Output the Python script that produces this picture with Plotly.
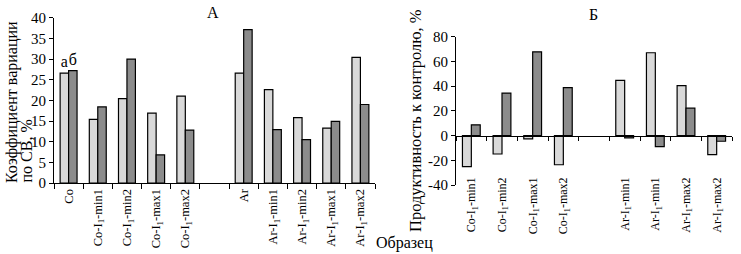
import plotly.graph_objects as go

# ---------------- data ----------------
cats_a = ["Co", "Co-I<sub>1</sub>-min1", "Co-I<sub>1</sub>-min2", "Co-I<sub>1</sub>-max1",
          "Co-I<sub>1</sub>-max2", "", "Ar", "Ar-I<sub>1</sub>-min1", "Ar-I<sub>1</sub>-min2",
          "Ar-I<sub>1</sub>-max1", "Ar-I<sub>1</sub>-max2"]
a_light = [26.6, 15.4, 20.4, 16.9, 21.0, None, 26.6, 22.6, 15.8, 13.3, 30.4]
a_dark = [27.2, 18.4, 30.0, 6.8, 12.8, None, 37.1, 12.9, 10.5, 14.9, 19.0]
a_text_light = ["а", "", "", "", "", "", "", "", "", "", ""]
a_text_dark = ["б", "", "", "", "", "", "", "", "", "", ""]

cats_b = ["Co-I<sub>1</sub>-min1", "Co-I<sub>1</sub>-min2", "Co-I<sub>1</sub>-max1",
          "Co-I<sub>1</sub>-max2", "", "Ar-I<sub>1</sub>-min1", "Ar-I<sub>1</sub>-min1",
          "Ar-I<sub>1</sub>-max2", "Ar-I<sub>1</sub>-max2"]
b_light = [-25.2, -14.9, -2.7, -23.6, None, 44.7, 67.0, 40.4, -15.5]
b_dark = [8.7, 34.4, 67.8, 38.8, None, -1.9, -8.9, 22.2, -4.6]

ya_ticks = [0, 5, 10, 15, 20, 25, 30, 35, 40]
yb_ticks = [-40, -20, 0, 20, 40, 60, 80]
yb_ticktext = ["-40", "-20", "0", "20", "40", "60", "80"]

# ---------------- style ----------------
FONT = "Liberation Serif"
LIGHT = "#d9d9d9"
DARK = "#8c8c8c"
line = dict(color="black", width=1.2)
W, H = 741, 254

xa = list(range(len(cats_a)))
xb = list(range(len(cats_b)))
# label positions (skip the empty gap slot)
xa_lab = [i for i, c in enumerate(cats_a) if c]
ta_lab = [c for c in cats_a if c]
xb_lab = [i for i, c in enumerate(cats_b) if c]
tb_lab = [c for c in cats_b if c]

fig = go.Figure()
fig.add_trace(go.Bar(x=xa, y=a_light, marker=dict(color=LIGHT, line=line),
                     text=a_text_light, textposition="outside",
                     textfont=dict(size=16, family=FONT, color="black"),
                     xaxis="x", yaxis="y", showlegend=False, cliponaxis=False))
fig.add_trace(go.Bar(x=xa, y=a_dark, marker=dict(color=DARK, line=line),
                     text=a_text_dark, textposition="outside",
                     textfont=dict(size=16, family=FONT, color="black"),
                     xaxis="x", yaxis="y", showlegend=False, cliponaxis=False))
fig.add_trace(go.Bar(x=xb, y=b_light, marker=dict(color=LIGHT, line=line),
                     xaxis="x2", yaxis="y2", showlegend=False))
fig.add_trace(go.Bar(x=xb, y=b_dark, marker=dict(color=DARK, line=line),
                     xaxis="x2", yaxis="y2", showlegend=False))
fig.add_trace(go.Scatter(x=[], y=[], xaxis="x3", yaxis="y2", showlegend=False))

dom_ax = [54 / W, 375 / W]
dom_ay = [(H - 183) / H, (H - 17.7) / H]
dom_bx = [456 / W, 732 / W]
dom_by = [(H - 185) / H, (H - 36.7) / H]
zero_b = dom_by[0] + (0 - (-40)) / 120 * (dom_by[1] - dom_by[0])

tickfont = dict(family=FONT, size=15, color="black")

fig.update_layout(
    template="none",
    width=W, height=H, autosize=False,
    margin=dict(l=0, r=0, t=0, b=0, pad=0),
    paper_bgcolor="white", plot_bgcolor="white",
    barmode="group", bargap=0.42, bargroupgap=0,
    font=dict(family=FONT, color="black"),
    xaxis=dict(domain=dom_ax, anchor="y", range=[-0.5, len(cats_a) - 0.5],
               automargin=False,
               tickmode="array", tickvals=xa_lab, ticktext=ta_lab, tickangle=-90,
               ticks="", showline=True, linecolor="black", linewidth=1.2,
               showgrid=False, zeroline=False,
               tickfont=dict(family=FONT, size=12.5, color="black"),
               minor=dict(tickmode="array", tickvals=[i - 0.5 for i in range(len(cats_a) + 1)],
                          ticks="outside", ticklen=5, tickwidth=1.2, tickcolor="black",
                          showgrid=False)),
    yaxis=dict(domain=dom_ay, anchor="x", range=[0, 40], tickmode="array",
               automargin=False,
               tickvals=ya_ticks, ticks="outside", ticklen=4, tickwidth=1.2,
               tickcolor="black", showline=True, linecolor="black", linewidth=1.2,
               showgrid=False, zeroline=False, tickfont=tickfont),
    xaxis2=dict(domain=dom_bx, anchor="free", position=(H - 174) / H,
                automargin=False,
                range=[-0.5, len(cats_b) - 0.5], tickmode="array", tickvals=xb_lab,
                ticktext=tb_lab, tickangle=-90, ticks="", showline=False,
                showgrid=False, zeroline=False,
                tickfont=dict(family=FONT, size=12, color="black")),
    xaxis3=dict(domain=dom_bx, anchor="free", position=zero_b, overlaying="x2",
                automargin=False,
                range=[-0.5, len(cats_b) - 0.5], tickmode="array",
                tickvals=[i - 0.5 for i in range(len(cats_b) + 1)],
                showticklabels=False, ticks="outside", ticklen=4, tickwidth=1.2,
                tickcolor="black", showline=True, linecolor="black", linewidth=1.2,
                showgrid=False, zeroline=False),
    yaxis2=dict(domain=dom_by, anchor="x2", range=[-40, 80], tickmode="array",
                automargin=False,
                tickvals=yb_ticks, ticktext=yb_ticktext, ticks="outside", ticklen=4,
                tickwidth=1.2, tickcolor="black", showline=True, linecolor="black",
                linewidth=1.2, showgrid=False, zeroline=False, tickfont=tickfont),
    annotations=[
        dict(text="А", x=213 / W, y=(H - 12) / H, xref="paper", yref="paper",
             xanchor="center", yanchor="middle",
             showarrow=False, font=dict(family=FONT, size=16, color="black")),
        dict(text="Б", x=593 / W, y=(H - 14) / H, xref="paper", yref="paper",
             xanchor="center", yanchor="middle",
             showarrow=False, font=dict(family=FONT, size=16, color="black")),
        dict(text="Коэффициент вариации", x=12 / W, y=(H - 185) / H,
             xref="paper", yref="paper", textangle=-90, showarrow=False,
             xanchor="center", yanchor="bottom",
             font=dict(family=FONT, size=16, color="black")),
        dict(text="по СВ, %", x=26 / W, y=(H - 185) / H,
             xref="paper", yref="paper", textangle=-90, showarrow=False,
             xanchor="center", yanchor="bottom",
             font=dict(family=FONT, size=16, color="black")),
        dict(text="Продуктивность к контролю, %", x=415 / W, y=(H - 120) / H,
             xref="paper", yref="paper", textangle=-90, showarrow=False,
             xanchor="center", yanchor="middle",
             font=dict(family=FONT, size=16.5, color="black")),
        dict(text="Образец", x=404 / W, y=(H - 243) / H, xref="paper", yref="paper",
             xanchor="center", yanchor="middle",
             showarrow=False, font=dict(family=FONT, size=16, color="black")),
    ],
)

fig.write_html("out.html",
               config={"displayModeBar": False},
               post_script="document.body.style.margin='0';document.body.style.overflow='hidden';")
